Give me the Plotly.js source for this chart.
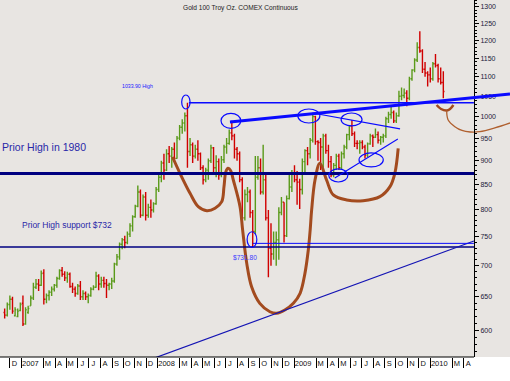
<!DOCTYPE html>
<html><head><meta charset="utf-8">
<script src="https://cdn.plot.ly/plotly-3.0.1.min.js"></script>
<style>html,body{margin:0;padding:0;background:#fff;}#chart{width:510px;height:381px;}</style>
</head><body><div id="chart"></div>
<script>
// ---- weekly bars (first bar week ending 2006-11-17) ----
const firstWeek = '2006-11-17';
const opens = [626,622,638,646,621,620,629,640,609,626,636,648,665,670,668,688,646,652,657,662,668,679,692,686,680,686,666,662,655,667,650,655,650,652,662,665,683,670,676,671,668,670,675,703,715,737,745,740,755,770,787,807,835,790,825,790,805,800,812,840,865,895,880,915,910,925,905,950,975,985,1002,920,935,910,925,915,885,860,880,900,928,885,898,870,902,930,938,962,955,925,915,860,785,830,835,795,760,865,885,835,860,785,730,720,740,745,795,815,752,822,845,872,860,855,840,898,922,915,945,1000,942,940,930,955,922,898,870,890,910,885,915,930,958,978,960,938,938,940,930,912,937,955,952,958,945,952,955,995,1005,1010,990,1002,1050,1052,1058,1045,1095,1118,1145,1180,1170,1120,1110,1105,1095,1135,1130,1095,1085];
const highs = [632,641,652,650,634,632,641,652,634,636,652,672,678,678,692,694,655,660,666,670,682,694,698,691,690,689,672,666,670,675,660,658,655,665,668,690,686,682,682,678,672,680,705,720,740,748,752,760,775,790,810,848,840,830,835,812,820,815,845,870,900,915,925,932,930,940,955,980,994,1010,1034,950,940,935,945,918,890,885,905,935,930,912,905,910,935,950,970,990,960,930,920,865,840,845,840,800,910,910,905,935,875,800,775,760,760,805,825,815,828,875,880,890,878,862,905,925,930,950,1008,1002,945,950,960,960,935,910,895,915,915,920,935,960,980,992,965,945,945,945,935,940,960,958,972,965,955,960,1000,1012,1025,1015,1010,1064,1072,1070,1065,1100,1120,1150,1195,1227,1175,1140,1115,1125,1140,1162,1135,1125,1115];
const lows = [617,620,630,624,620,619,628,606,608,624,636,645,662,659,667,638,640,644,651,658,664,677,682,675,672,664,656,650,653,645,645,645,640,650,660,664,660,664,664,648,660,662,672,700,710,728,730,737,750,760,785,805,785,788,780,785,785,795,810,835,855,860,878,895,885,900,904,945,960,965,885,910,895,905,900,880,850,855,860,895,875,865,860,865,895,915,935,945,905,900,855,775,780,815,785,732,755,860,830,830,780,681,700,710,700,710,790,740,750,820,835,855,810,802,830,875,890,905,940,935,900,880,885,915,885,865,865,880,880,880,905,925,945,955,930,925,915,925,905,908,935,930,950,938,935,940,950,985,995,985,985,1000,1040,1045,1025,1040,1090,1112,1140,1165,1110,1100,1075,1085,1090,1125,1085,1080,1045];
const closes = [622,638,646,628,630,628,638,609,630,632,648,665,670,668,687,646,652,657,662,668,679,692,686,680,686,666,662,655,667,650,655,650,652,662,665,683,670,676,671,668,670,675,703,715,737,745,740,755,770,787,807,835,790,825,790,805,800,812,840,865,895,880,915,910,925,905,950,975,985,1002,920,935,910,925,915,885,860,880,900,928,885,898,870,902,930,938,962,955,925,915,860,785,830,835,795,760,865,885,835,860,785,730,720,740,745,795,815,752,822,845,872,860,855,840,898,922,915,945,1000,942,940,930,955,922,898,870,890,910,885,915,930,958,978,960,938,938,940,930,912,937,955,952,958,945,952,955,995,1005,1010,990,1002,1050,1052,1058,1045,1095,1118,1145,1180,1170,1120,1110,1105,1095,1135,1130,1095,1085,1062];

// ---- axis ticks ----
const monthStarts = ['2006-12-01','2007-01-01','2007-03-01','2007-04-01','2007-05-01','2007-06-01','2007-07-01','2007-08-01','2007-09-01','2007-10-01','2007-11-01','2007-12-01',
 '2008-01-01','2008-03-01','2008-04-01','2008-05-01','2008-06-01','2008-07-01','2008-08-01','2008-09-01','2008-10-01','2008-11-01','2008-12-01',
 '2009-01-01','2009-03-01','2009-04-01','2009-05-01','2009-06-01','2009-07-01','2009-08-01','2009-09-01','2009-10-01','2009-11-01','2009-12-01',
 '2010-01-01','2010-03-01','2010-04-01'];
const monthLabels = ['D','2007','M','A','M','J','J','A','S','O','N','D',
 '2008','M','A','M','J','J','A','S','O','N','D',
 '2009','M','A','M','J','J','A','S','O','N','D',
 '2010','M','A'];
const priceTicks = [600,650,700,750,800,850,900,950,1000,1050,1100,1150,1200,1250,1300];

// ---- analyst drawings (dates / prices) ----
const priorHigh1980 = 873;
const priorSupport = 732;
const high2008 = 1033.9;
const low2008 = 731.8;
const trendThick = {x:['2008-07-13','2010-08-02 18:00'], y:[987.3,1055.7]};
const triTop = {x:['2009-02-19','2009-10-12'], y:[1008.8,971]};
const triBottom = {x:['2009-04-20','2009-10-06'], y:[863.7,948]};
const longTrend = {x:['2007-12-25','2010-04-28'], y:[561.6,742.6]};
const lowLine = {x:['2008-09-12','2010-04-28'], y:[738.5,738.5]};
const highLine = {x:['2008-03-25','2010-04-28']};
const circles = [
 {x:['2008-03-05 14:00','2008-03-28'], y:[1018.5,1053.2]},
 {x:['2008-06-19','2008-08-11'], y:[972.5,1008.1]},
 {x:['2008-08-28','2008-09-23'], y:[731.6,759.3]},
 {x:['2009-01-11','2009-03-11'], y:[985.0,1018.5]},
 {x:['2009-05-07','2009-07-02'], y:[978.0,1008.8]},
 {x:['2009-06-24','2009-08-28'], y:[886.6,916.8]},
 {x:['2009-04-04','2009-05-25'], y:[855.3,882.4]}
];
const curveDates = ['2008-02-10','2008-03-01','2008-03-28','2008-04-19','2008-05-12','2008-06-03','2008-06-21','2008-06-27','2008-07-02','2008-07-08','2008-07-15','2008-07-22','2008-08-09','2008-08-16','2008-08-27','2008-09-09','2008-10-01','2008-10-28','2008-11-15','2008-12-07','2008-12-30','2009-01-17','2009-01-30','2009-02-08','2009-02-13','2009-02-17','2009-02-26','2009-03-11','2009-03-29','2009-04-16','2009-05-22','2009-07-05','2009-08-19','2009-09-15','2009-09-28','2009-10-07'];
const curvePrices = [908.0,873.3,832.5,806.3,798.6,803.2,816.0,845.8,876.6,883.8,878.7,859.4,806.3,762.4,704.0,665.7,639.8,627.1,624.7,629.6,639.8,655.3,687.4,726.8,762.4,800.0,859.4,894.4,859.4,829.2,819.3,817.9,825.8,845.8,873.3,927.1];
const cupDates = ['2010-01-18','2010-01-30','2010-02-14','2010-02-23','2010-03-04'];
const cupPrices = [1028.3,1018.5,1014.8,1018.5,1028.3];
const hookDates = ['2010-02-14','2010-02-18','2010-03-08','2010-03-27','2010-04-18','2010-05-14','2010-06-23','2010-08-02 18:00'];
const hookPrices = [1014.8,992.0,976.3,967.5,964.0,964.7,973.3,985.0];

// ---- build ----
function addDays(s, n){const d=new Date(s+'T00:00:00Z'); d.setUTCDate(d.getUTCDate()+n); return d.toISOString().slice(0,10);}
const weekDates = opens.map((_,i)=>addDays(firstWeek, 7*i));
const labelPos = monthStarts.map((m,i)=>addDays(m, monthLabels[i].length>1 ? 24 : 12));
const minorY = []; for(let v=570; v<=1320; v+=10) minorY.push(v);

const FONT = 'Liberation Sans, Arial, sans-serif';
const AXIS_X = 474/510;
const brown = '#a34b1f';
const blue = '#0a0aff';

const traces = [
 {type:'ohlc', x:weekDates, open:opens, high:highs, low:lows, close:closes,
  increasing:{line:{color:'#5a9a1a', width:1.4}}, decreasing:{line:{color:'#d00000', width:1.4}},
  tickwidth:0.45, hoverinfo:'skip', showlegend:false},
 {type:'scatter', mode:'lines', x:curveDates, y:curvePrices, line:{color:brown, width:3, shape:'spline', smoothing:1}, hoverinfo:'skip'},
 {type:'scatter', mode:'lines', x:cupDates, y:cupPrices, line:{color:brown, width:2.5, shape:'spline', smoothing:1}, hoverinfo:'skip'},
 {type:'scatter', mode:'lines', x:hookDates, y:hookPrices, line:{color:'#b0602f', width:1.3, shape:'spline', smoothing:1}, hoverinfo:'skip'}
];

const shapes = [
 {type:'line', xref:'paper', x0:0, x1:AXIS_X, yref:'y', y0:priorHigh1980, y1:priorHigh1980, line:{color:'#000080', width:3}},
 {type:'line', xref:'paper', x0:0, x1:AXIS_X, yref:'y', y0:priorSupport, y1:priorSupport, line:{color:'#000080', width:1.5}},
 {type:'line', xref:'x', x0:highLine.x[0], x1:highLine.x[1], yref:'y', y0:high2008, y1:high2008, line:{color:blue, width:1.5}},
 {type:'line', xref:'x', x0:trendThick.x[0], x1:trendThick.x[1], yref:'y', y0:trendThick.y[0], y1:trendThick.y[1], line:{color:blue, width:3}},
 {type:'line', xref:'x', x0:triTop.x[0], x1:triTop.x[1], yref:'y', y0:triTop.y[0], y1:triTop.y[1], line:{color:blue, width:1.2}},
 {type:'line', xref:'x', x0:triBottom.x[0], x1:triBottom.x[1], yref:'y', y0:triBottom.y[0], y1:triBottom.y[1], line:{color:blue, width:1.1}},
 {type:'line', xref:'x', x0:longTrend.x[0], x1:longTrend.x[1], yref:'y', y0:longTrend.y[0], y1:longTrend.y[1], line:{color:'#1414b4', width:1.2}},
 {type:'line', xref:'x', x0:lowLine.x[0], x1:lowLine.x[1], yref:'y', y0:lowLine.y[0], y1:lowLine.y[1], line:{color:blue, width:1}},
 {type:'line', xref:'paper', x0:0, x1:AXIS_X, yref:'paper', y0:0, y1:0, line:{color:'#000', width:1}}
];
circles.forEach(c=>shapes.push({type:'circle', xref:'x', yref:'y', x0:c.x[0], x1:c.x[1], y0:c.y[0], y1:c.y[1], line:{color:blue, width:1.2}}));

const txt = '#2828a8';
const annotations = [
 {xref:'paper', yref:'paper', x:240/510, y:1-8/357, text:'Gold 100 Troy Oz. COMEX Continuous', showarrow:false, xanchor:'center', yanchor:'middle', font:{family:FONT, size:6.6, color:'#222'}},
 {xref:'paper', yref:'paper', x:137/510, y:1-86/357, text:'1033.90 High', showarrow:false, xanchor:'center', yanchor:'middle', font:{family:FONT, size:5.2, color:'#2020ff'}},
 {xref:'paper', yref:'paper', x:245/510, y:1-257/357, text:'$731.80', showarrow:false, xanchor:'center', yanchor:'middle', font:{family:FONT, size:6.6, color:'#3a3aff'}},
 {xref:'paper', yref:'paper', x:1/510, y:1-147/357, text:'Prior High in 1980', showarrow:false, xanchor:'left', yanchor:'middle', borderpad:0, font:{family:FONT, size:10.5, color:txt}},
 {xref:'paper', yref:'paper', x:66.7/510, y:1-224.5/357, text:'Prior High support $732', showarrow:false, xanchor:'center', yanchor:'middle', font:{family:FONT, size:8.5, color:txt}}
];

const layout = {
 width:510, height:381, margin:{l:0, r:0, t:0, b:24, pad:0},
 paper_bgcolor:'#ffffff', plot_bgcolor:'#e8e5e2', showlegend:false,
 xaxis:{type:'date', range:['2006-11-04 12:00','2010-08-02 18:00'], showgrid:false, zeroline:false, showline:false,
  tickmode:'array', tickvals:labelPos, ticktext:monthLabels, ticks:'',
  tickfont:{family:FONT, size:7.5, color:'#111'},
  minor:{tickmode:'array', tickvals:monthStarts, ticks:'outside', ticklen:10, tickcolor:'#000', tickwidth:1, showgrid:false},
  rangeslider:{visible:false}, fixedrange:true},
 yaxis:{type:'log', range:[2.7503, 3.1212], side:'right', anchor:'free', position:AXIS_X,
  showgrid:false, zeroline:false, showline:true, linecolor:'#000', linewidth:1,
  tickmode:'array', tickvals:priceTicks, ticktext:priceTicks.map(String), ticks:'outside', ticklen:4, tickcolor:'#000', tickwidth:1,
  tickfont:{family:FONT, size:7, color:'#1a1a3a'},
  minor:{tickmode:'array', tickvals:minorY, ticks:'outside', ticklen:2, tickcolor:'#000', tickwidth:1, showgrid:false},
  fixedrange:true},
 shapes:shapes, annotations:annotations
};

Plotly.newPlot('chart', traces, layout, {staticPlot:true, displayModeBar:false});
</script>
</body></html>
